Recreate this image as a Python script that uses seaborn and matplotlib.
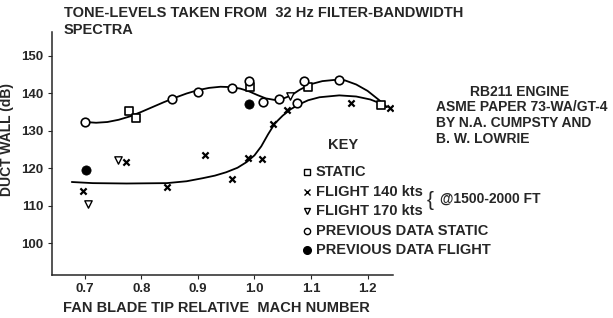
import matplotlib
matplotlib.use("Agg")
from matplotlib import pyplot as plt
import numpy as np
import pandas as pd
import seaborn as sns

# --- data ---
static_x = [0.779, 0.790, 0.993, 1.095, 1.224]
static_y = [135.2, 133.3, 141.6, 141.6, 136.8]

flight140_x = [0.696, 0.772, 0.845, 0.912, 0.961, 0.989, 1.014, 1.032, 1.058, 1.171, 1.240]
flight140_y = [113.9, 121.6, 114.9, 123.4, 117.0, 122.8, 122.5, 131.7, 135.5, 137.3, 136.0]

flight170_x = [0.705, 0.758, 1.062]
flight170_y = [110.4, 122.1, 139.2]

prev_static_x = [0.700, 0.855, 0.901, 0.961, 0.991, 1.016, 1.044, 1.076, 1.088, 1.150]
prev_static_y = [132.3, 138.4, 140.3, 141.3, 143.2, 137.6, 138.4, 137.3, 143.2, 143.5]

prev_flight_x = [0.702, 0.991]
prev_flight_y = [119.5, 137.1]

# hand-drawn fit lines
upper_x = [0.700, 0.720, 0.740, 0.760, 0.780, 0.800, 0.820, 0.840, 0.860, 0.880,
           0.900, 0.920, 0.940, 0.960, 0.975, 0.990, 1.005, 1.020, 1.035, 1.050,
           1.065, 1.080, 1.100, 1.120, 1.140, 1.160, 1.180, 1.200, 1.220, 1.234]
upper_y = [132.3, 132.1, 132.3, 132.9, 133.8, 135.0, 136.3, 137.6, 138.8, 139.9,
           140.8, 141.4, 141.7, 141.6, 141.2, 140.5, 139.5, 138.6, 138.2, 138.5,
           139.4, 140.9, 142.4, 143.2, 143.5, 143.4, 142.3, 140.6, 138.2, 136.3]
lower_x = [0.677, 0.714, 0.774, 0.845, 0.880, 0.908, 0.930, 0.950, 0.970, 0.986,
           1.000, 1.012, 1.024, 1.036, 1.050, 1.064, 1.079, 1.095, 1.115, 1.150,
           1.180, 1.205, 1.222, 1.234]
lower_y = [116.3, 116.0, 115.9, 116.0, 116.5, 117.3, 118.0, 118.9, 120.1, 121.6,
           123.4, 125.8, 129.0, 131.9, 134.0, 135.7, 137.0, 138.1, 138.9, 139.4,
           139.1, 138.3, 137.3, 136.3]

xticks = [0.7, 0.8, 0.9, 1.0, 1.1, 1.2]
yticks = [100, 110, 120, 130, 140, 150]

sns.set_style("ticks")
plt.rcParams['font.family'] = ['Liberation Sans', 'DejaVu Sans']
plt.rcParams['font.weight'] = 'bold'

fig = plt.figure(figsize=(6.13, 3.18), dpi=100)
ax = fig.add_axes([52 / 613, 1 - 275 / 318, (393 - 52) / 613, (275 - 32) / 318])

sns.lineplot(x=upper_x, y=upper_y, sort=False, estimator=None, color='black', lw=1.3, ax=ax)
sns.lineplot(x=lower_x, y=lower_y, sort=False, estimator=None, color='black', lw=1.3, ax=ax)

mk = dict(ax=ax, legend=False, zorder=3)
sns.scatterplot(x=static_x, y=static_y, marker='s', s=32, facecolor='white',
                edgecolor='black', linewidth=1.2, **mk)
sns.scatterplot(x=prev_static_x, y=prev_static_y, marker='o', s=38, facecolor='white',
                edgecolor='black', linewidth=1.2, **mk)
sns.scatterplot(x=flight170_x, y=flight170_y, marker='v', s=28, facecolor='white',
                edgecolor='black', linewidth=1.0, **mk)
sns.scatterplot(x=flight140_x, y=flight140_y, marker='x', s=20, color='black',
                linewidth=1.6, **mk)
sns.scatterplot(x=prev_flight_x, y=prev_flight_y, marker='o', s=44, color='black',
                edgecolor='black', **mk)

ax.set_xlim(0.642, 1.245)
ax.set_ylim(91.5, 156.3)
ax.set_xticks(xticks)
ax.set_yticks(yticks)
ax.set_xticklabels([f"{v:.1f}" for v in xticks], fontsize=9.5, fontweight='bold')
ax.set_yticklabels([str(v) for v in yticks], fontsize=9.5, fontweight='bold')
ax.tick_params(direction='out', length=3, width=0.8, pad=3)
ax.set_xlabel('')
ax.set_ylabel('')
for s in ['top', 'right']:
    ax.spines[s].set_visible(False)
for s in ['left', 'bottom']:
    ax.spines[s].set_linewidth(1.1)

fs = 10.5
fig.text(64 / 613, 1 - 13 / 318, 'TONE-LEVELS TAKEN FROM  32 Hz FILTER-BANDWIDTH',
         fontsize=fs, va='center', ha='left')
fig.text(64 / 613, 1 - 30 / 318, 'SPECTRA', fontsize=fs, va='center', ha='left')
fig.text(63 / 613, 1 - 308 / 318, 'FAN BLADE TIP RELATIVE  MACH NUMBER',
         fontsize=fs, va='center', ha='left')
fig.text(7 / 613, 1 - 140 / 318, 'DUCT WALL (dB)', rotation=90, fontsize=10,
         va='center', ha='center')

fs2 = 10
fig.text(470 / 613, 1 - 92 / 318, 'RB211 ENGINE', fontsize=fs2, va='center', ha='left')
fig.text(436 / 613, 1 - 107 / 318, 'ASME PAPER 73-WA/GT-4', fontsize=fs2, va='center', ha='left')
fig.text(436 / 613, 1 - 123 / 318, 'BY N.A. CUMPSTY AND', fontsize=fs2, va='center', ha='left')
fig.text(436 / 613, 1 - 139 / 318, 'B. W. LOWRIE', fontsize=fs2, va='center', ha='left')

# key
fig.text(328 / 613, 1 - 145 / 318, 'KEY', fontsize=fs, va='center', ha='left')
key_labels = ['STATIC', 'FLIGHT 140 kts', 'FLIGHT 170 kts',
              'PREVIOUS DATA STATIC', 'PREVIOUS DATA FLIGHT']
key_markers = [('s', 'white', 4), ('x', 'black', 4.5), ('v', 'white', 4.5),
               ('o', 'white', 4.5), ('o', 'black', 5.5)]
key_y = [172, 192, 211, 231, 250]
for lab, (m, fc, ms), yp in zip(key_labels, key_markers, key_y):
    yf = 1 - yp / 318
    fig.lines.append(plt.Line2D([307 / 613], [yf], marker=m, markersize=ms,
                                markerfacecolor=fc, markeredgecolor='black',
                                markeredgewidth=1.0, linestyle='none',
                                transform=fig.transFigure))
    fig.text(316 / 613, yf, lab, fontsize=fs, va='center', ha='left')
fig.text(427 / 613, 1 - 201 / 318, '{', fontsize=15, va='center', ha='left',
         fontweight='normal')
fig.text(440 / 613, 1 - 199 / 318, '@1500-2000 FT', fontsize=10, va='center', ha='left')

fig.savefig('out.png', dpi=100)
